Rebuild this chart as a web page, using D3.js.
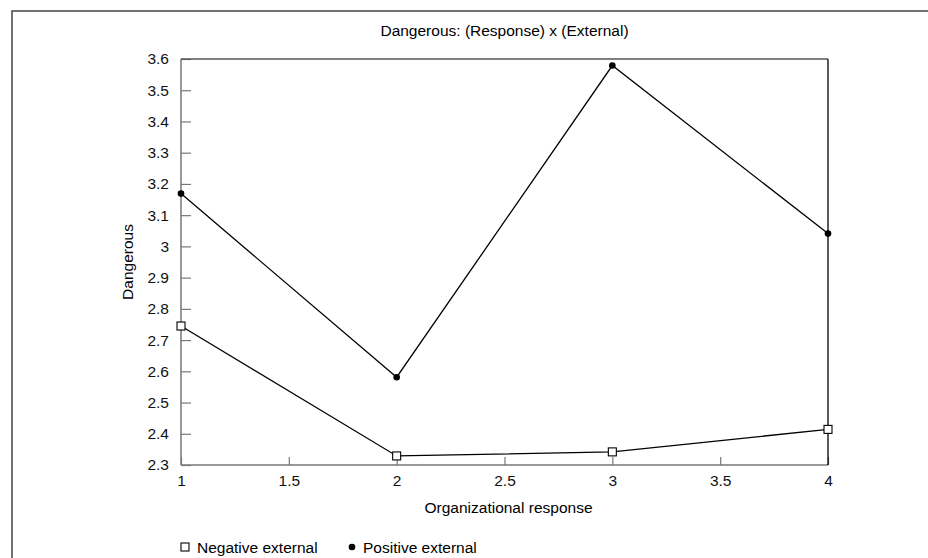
<!DOCTYPE html>
<html>
<head>
<meta charset="utf-8">
<script src="https://cdn.jsdelivr.net/npm/d3@7"></script>
<style>
  body { margin: 0; background: #fff; }
  svg { display: block; font-family: "Liberation Sans", Arial, sans-serif; }
  .axis path { display: none; }
  .axis line { stroke: #777; stroke-width: 1.2; }
  .axis text { font-size: 15.5px; fill: #111; }
</style>
</head>
<body>
<svg id="chart"></svg>
<script>
var responses = [1, 2, 3, 4];
var negativeExternal = [2.745, 2.329, 2.342, 2.414];
var positiveExternal = [3.169, 2.581, 3.579, 3.041];
var xTicks = [1, 1.5, 2, 2.5, 3, 3.5, 4];
var yTicks = [2.3, 2.4, 2.5, 2.6, 2.7, 2.8, 2.9, 3, 3.1, 3.2, 3.3, 3.4, 3.5, 3.6];
var seriesNames = ["Negative external", "Positive external"];

var width = 928, height = 558;
var padLeft = 181, padRight = 828, padTop = 59, padBottom = 465;

var svg = d3.select("#chart").attr("width", width).attr("height", height);

// outer frame (runs off the right and bottom edges)
svg.append("rect")
    .attr("x", 12).attr("y", 11)
    .attr("width", 940).attr("height", 600)
    .attr("fill", "none")
    .attr("stroke", "#444")
    .attr("stroke-width", 1.5);

var x = d3.scaleLinear().domain([1, 4]).range([padLeft, padRight]);
var y = d3.scaleLinear().domain([2.3, 3.6]).range([padBottom, padTop]);

var fmt = function(d) { return String(+d.toFixed(1)); };

svg.append("g")
    .attr("class", "axis")
    .attr("transform", "translate(0," + padBottom + ")")
    .call(d3.axisBottom(x).tickValues(xTicks).tickFormat(fmt).tickSize(-8).tickPadding(10));

svg.append("g")
    .attr("class", "axis")
    .attr("transform", "translate(" + padLeft + ",0)")
    .call(d3.axisLeft(y).tickValues(yTicks).tickFormat(fmt).tickSize(-10).tickPadding(12));

// plot frame: gray left/bottom, black top/right
svg.append("line").attr("x1", padLeft).attr("x2", padLeft).attr("y1", padTop).attr("y2", padBottom)
    .attr("stroke", "#777").attr("stroke-width", 1.5);
svg.append("line").attr("x1", padLeft).attr("x2", padRight).attr("y1", padBottom).attr("y2", padBottom)
    .attr("stroke", "#777").attr("stroke-width", 1.5);
svg.append("line").attr("x1", padLeft).attr("x2", padRight).attr("y1", padTop).attr("y2", padTop)
    .attr("stroke", "#555").attr("stroke-width", 1.5);
svg.append("line").attr("x1", padRight).attr("x2", padRight).attr("y1", padTop).attr("y2", padBottom)
    .attr("stroke", "#000").attr("stroke-width", 1.3);

var line = d3.line()
    .x(function(d, i) { return x(responses[i]); })
    .y(function(d) { return y(d); });

[negativeExternal, positiveExternal].forEach(function(vals) {
    svg.append("path")
        .datum(vals)
        .attr("d", line)
        .attr("fill", "none")
        .attr("stroke", "#000")
        .attr("stroke-width", 1.3);
});

svg.selectAll("rect.neg")
    .data(negativeExternal)
    .enter()
    .append("rect")
    .attr("class", "neg")
    .attr("x", function(d, i) { return x(responses[i]) - 4; })
    .attr("y", function(d) { return y(d) - 4; })
    .attr("width", 8).attr("height", 8)
    .attr("fill", "#fff").attr("stroke", "#000").attr("stroke-width", 1.1);

svg.selectAll("circle.pos")
    .data(positiveExternal)
    .enter()
    .append("circle")
    .attr("class", "pos")
    .attr("cx", function(d, i) { return x(responses[i]); })
    .attr("cy", function(d) { return y(d); })
    .attr("r", 3.3)
    .attr("fill", "#000");

// titles
svg.append("text")
    .attr("x", (padLeft + padRight) / 2).attr("y", 36)
    .attr("text-anchor", "middle")
    .style("font-size", "15.5px")
    .text("Dangerous: (Response) x (External)");

svg.append("text")
    .attr("x", (padLeft + padRight) / 2 + 4).attr("y", 513)
    .attr("text-anchor", "middle")
    .style("font-size", "15.5px")
    .text("Organizational response");

svg.append("text")
    .attr("transform", "translate(133," + ((padTop + padBottom) / 2) + ") rotate(-90)")
    .attr("text-anchor", "middle")
    .style("font-size", "15.5px")
    .text("Dangerous");

// legend
var legend = svg.append("g").attr("transform", "translate(0,547)");
legend.append("rect")
    .attr("x", 181).attr("y", -4).attr("width", 8).attr("height", 8)
    .attr("fill", "#fff").attr("stroke", "#000").attr("stroke-width", 1.1);
legend.append("text").attr("x", 197).attr("y", 5.5)
    .style("font-size", "15.5px").text(seriesNames[0]);
legend.append("circle")
    .attr("cx", 352).attr("cy", 0).attr("r", 3.3).attr("fill", "#000");
legend.append("text").attr("x", 363).attr("y", 5.5)
    .style("font-size", "15.5px").text(seriesNames[1]);
</script>
</body>
</html>
